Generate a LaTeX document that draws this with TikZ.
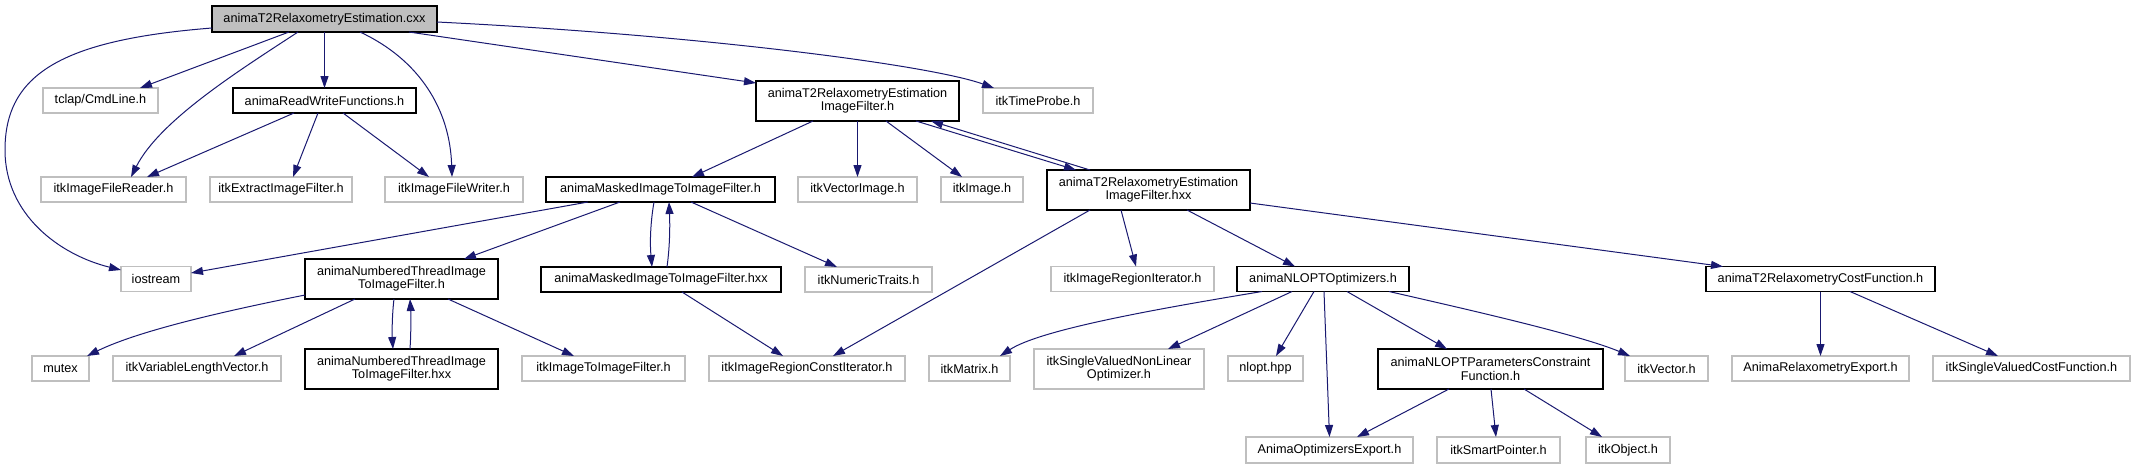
\documentclass[tikz,border=0pt]{standalone}
\usepackage{fontspec}
\setmainfont{Liberation Sans}
\usetikzlibrary{arrows.meta,calc}
\definecolor{greyb}{HTML}{BFBFBF}
\definecolor{navyedge}{HTML}{191970}
\tikzset{
  every node/.style={font=\fontsize{9.5}{10}\selectfont, inner sep=0pt, outer sep=0pt, align=center},
  wh/.style 2 args={minimum width=#1*0.75pt, minimum height=#2*0.75pt},
  gbox/.style={draw=greyb, line width=0.8pt, fill=white},
  bbox/.style={draw=black, line width=0.8pt, fill=white},
  rootbox/.style={draw=black, fill=greyb, line width=0.8pt},
  edge/.style={draw=navyedge, line width=0.75pt, -{Triangle[length=9pt,width=6pt]}}
}
\begin{document}
\begin{tikzpicture}[x=0.75pt,y=-0.75pt]
\useasboundingbox (0,0) rectangle (2135,469);
% row 0
\node[rootbox, wh={225}{26}] (root) at (324.5,19) {animaT2RelaxometryEstimation.cxx};
% row 1
\node[gbox, wh={115}{25}] (tclap) at (100.5,100.5) {tclap/CmdLine.h};
\node[bbox, wh={183}{25}] (rw) at (324.5,100.5) {animaReadWriteFunctions.h};
\node[bbox, wh={203}{40}] (imgfh) at (857.5,101) {animaT2RelaxometryEstimation\\ImageFilter.h};
\node[gbox, wh={110}{25}] (timeprobe) at (1038,100.5) {itkTimeProbe.h};
% row 2
\node[gbox, wh={145}{25}] (reader) at (113.5,189.5) {itkImageFileReader.h};
\node[gbox, wh={142}{25}] (extract) at (281,189.5) {itkExtractImageFilter.h};
\node[gbox, wh={138}{25}] (writer) at (454,189.5) {itkImageFileWriter.h};
\node[bbox, wh={229}{25}] (maskh) at (660.5,189.5) {animaMaskedImageToImageFilter.h};
\node[gbox, wh={119}{25}] (vecimg) at (857.5,189.5) {itkVectorImage.h};
\node[gbox, wh={82}{25}] (itkimage) at (982,189.5) {itkImage.h};
\node[bbox, wh={203}{40}] (imgfhxx) at (1148.5,190) {animaT2RelaxometryEstimation\\ImageFilter.hxx};
% row 3
\node[gbox, wh={70}{25}] (iostream) at (156,279) {iostream};
\node[bbox, wh={193}{40}] (nth) at (401.5,279) {animaNumberedThreadImage\\ToImageFilter.h};
\node[bbox, wh={240}{25}] (maskhxx) at (661,279.5) {animaMaskedImageToImageFilter.hxx};
\node[gbox, wh={127}{25}] (numtraits) at (868.5,279.5) {itkNumericTraits.h};
\node[gbox, wh={163}{25}] (regioniter) at (1132.5,279) {itkImageRegionIterator.h};
\node[bbox, wh={172}{25}] (nlopt) at (1323,279) {animaNLOPTOptimizers.h};
\node[bbox, wh={229}{25}] (costfn) at (1820.5,279) {animaT2RelaxometryCostFunction.h};
% row 4
\node[gbox, wh={57}{25}] (mutex) at (60.5,368.5) {mutex};
\node[gbox, wh={168}{25}] (varlen) at (197,368.5) {itkVariableLengthVector.h};
\node[bbox, wh={193}{40}] (nthhxx) at (401.5,369) {animaNumberedThreadImage\\ToImageFilter.hxx};
\node[gbox, wh={163}{25}] (imgtoimg) at (603.5,368.5) {itkImageToImageFilter.h};
\node[gbox, wh={196}{25}] (constiter) at (807,368.5) {itkImageRegionConstIterator.h};
\node[gbox, wh={81}{25}] (matrix) at (969.5,368.5) {itkMatrix.h};
\node[gbox, wh={170}{40}] (svnlo) at (1119,369) {itkSingleValuedNonLinear\\Optimizer.h};
\node[gbox, wh={75}{25}] (nlopthpp) at (1265.5,368.5) {nlopt.hpp};
\node[bbox, wh={225}{40}] (nloptparam) at (1490.5,369) {animaNLOPTParametersConstraint\\Function.h};
\node[gbox, wh={83}{25}] (itkvector) at (1666.5,368.5) {itkVector.h};
\node[gbox, wh={177}{25}] (relaxexport) at (1820.5,368.5) {AnimaRelaxometryExport.h};
\node[gbox, wh={197}{25}] (svcost) at (2031.5,368.5) {itkSingleValuedCostFunction.h};
% row 5
\node[gbox, wh={167}{26}] (optexport) at (1329.5,450) {AnimaOptimizersExport.h};
\node[gbox, wh={123}{26}] (smartptr) at (1498.5,450) {itkSmartPointer.h};
\node[gbox, wh={84}{26}] (itkobject) at (1628,450) {itkObject.h};

% edges from root
\draw[edge] ($(root.south)+(-35.5,0)$) -- ($(tclap.north)+(39.5,0)$);
\draw[edge] ($(root.south)+(-26.5,0)$) .. controls (240,70) and (160,120) .. ($(reader.north)+(17.5,0)$);
\draw[edge] (root.south) -- (rw.north);
\draw[edge] ($(root.south)+(35.5,0)$) .. controls (420,60) and (450,110) .. ($(writer.north)+(-2,0)$);
\draw[edge] ($(root.south west)+(0,-4)$) .. controls (60,40) and (5,75) .. (5,150) .. controls (5,215) and (60,255) .. ($(iostream.west)+(0,-9)$);
\draw[edge] ($(root.south)+(84.5,0)$) -- ($(imgfh.west)+(0,-18)$);
\draw[edge] ($(root.east)+(0,3)$) .. controls (700,35) and (930,65) .. ($(timeprobe.north)+(-44,0)$);
% read/write
\draw[edge] ($(rw.south)+(-30.5,0)$) -- ($(reader.north)+(33.5,0)$);
\draw[edge] ($(rw.south)+(-6.5,0)$) -- ($(extract.north)+(12,0)$);
\draw[edge] ($(rw.south)+(18.5,0)$) -- ($(writer.north)+(-25,0)$);
% image filter .h
\draw[edge] ($(imgfh.south)+(-44.5,0)$) -- ($(maskh.north)+(31.5,0)$);
\draw[edge] (imgfh.south) -- (vecimg.north);
\draw[edge] ($(imgfh.south)+(28.5,0)$) -- ($(itkimage.north)+(-20,0)$);
\draw[edge] ($(imgfh.south)+(58.5,0)$) -- ($(imgfhxx.north)+(-72.5,0)$);
\draw[edge] ($(imgfhxx.north)+(-58.5,0)$) -- ($(imgfh.south)+(73.5,0)$);
% image filter .hxx
\draw[edge] ($(imgfhxx.south)+(-58.5,0)$) -- ($(constiter.north)+(26,0)$);
\draw[edge] ($(imgfhxx.south)+(-27.5,0)$) -- ($(regioniter.north)+(3.5,0)$);
\draw[edge] ($(imgfhxx.south)+(38.5,0)$) -- ($(nlopt.north)+(-28,0)$);
\draw[edge] ($(imgfhxx.east)+(0,13)$) -- ($(costfn.north)+(-97.5,0)$);
% masked filter
\draw[edge] ($(maskh.south)+(-72.5,0)$) -- ($(iostream.east)+(0,-6)$);
\draw[edge] ($(maskh.south)+(-40.5,0)$) -- ($(nth.north)+(62.5,0)$);
\draw[edge] ($(maskh.south)+(-6.5,0)$) .. controls (650,225) and (650,245) .. ($(maskhxx.north)+(-9,0)$);
\draw[edge] ($(maskhxx.north)+(6,0)$) .. controls (670,245) and (670,225) .. ($(maskh.south)+(8.5,0)$);
\draw[edge] ($(maskh.south)+(30.5,0)$) -- ($(numtraits.north)+(-31.5,0)$);
\draw[edge] ($(maskhxx.south)+(21,0)$) -- ($(constiter.north)+(-24,0)$);
% numbered thread
\draw[edge] ($(nth.south west)+(0,-4)$) .. controls (230,310) and (140,330) .. ($(mutex.north east)+(-2,0)$);
\draw[edge] ($(nth.south)+(-46.5,0)$) -- ($(varlen.north)+(37,0)$);
\draw[edge] ($(nth.south)+(-7.5,0)$) .. controls (392,315) and (392,335) .. ($(nthhxx.north)+(-8.5,0)$);
\draw[edge] ($(nthhxx.north)+(8.5,0)$) .. controls (411,335) and (411,315) .. ($(nth.south)+(8.5,0)$);
\draw[edge] ($(nth.south)+(46.5,0)$) -- ($(imgtoimg.north)+(-29.5,0)$);
% NLOPT optimizers
\draw[edge] ($(nlopt.south)+(-61,0)$) .. controls (1150,310) and (1040,330) .. ($(matrix.north)+(30.5,0)$);
\draw[edge] ($(nlopt.south)+(-31,0)$) -- ($(svnlo.north)+(49,0)$);
\draw[edge] ($(nlopt.south)+(-9,0)$) -- ($(nlopthpp.north)+(10.5,0)$);
\draw[edge] ($(nlopt.south)+(1,0)$) -- (optexport.north);
\draw[edge] ($(nlopt.south)+(24,0)$) -- ($(nloptparam.north)+(-43.5,0)$);
\draw[edge] ($(nlopt.south)+(66,0)$) .. controls (1470,310) and (1580,335) .. ($(itkvector.north)+(-36.5,0)$);
% NLOPT parameters constraint
\draw[edge] ($(nloptparam.south)+(-41.5,0)$) -- ($(optexport.north)+(27.5,0)$);
\draw[edge] ($(nloptparam.south)+(0.5,0)$) -- ($(smartptr.north)+(-2.5,0)$);
\draw[edge] ($(nloptparam.south)+(33.5,0)$) -- ($(itkobject.north)+(-26,0)$);
% cost function
\draw[edge] (costfn.south) -- (relaxexport.north);
\draw[edge] ($(costfn.south)+(29.5,0)$) -- ($(svcost.north)+(-33.5,0)$);
\end{tikzpicture}
\end{document}
